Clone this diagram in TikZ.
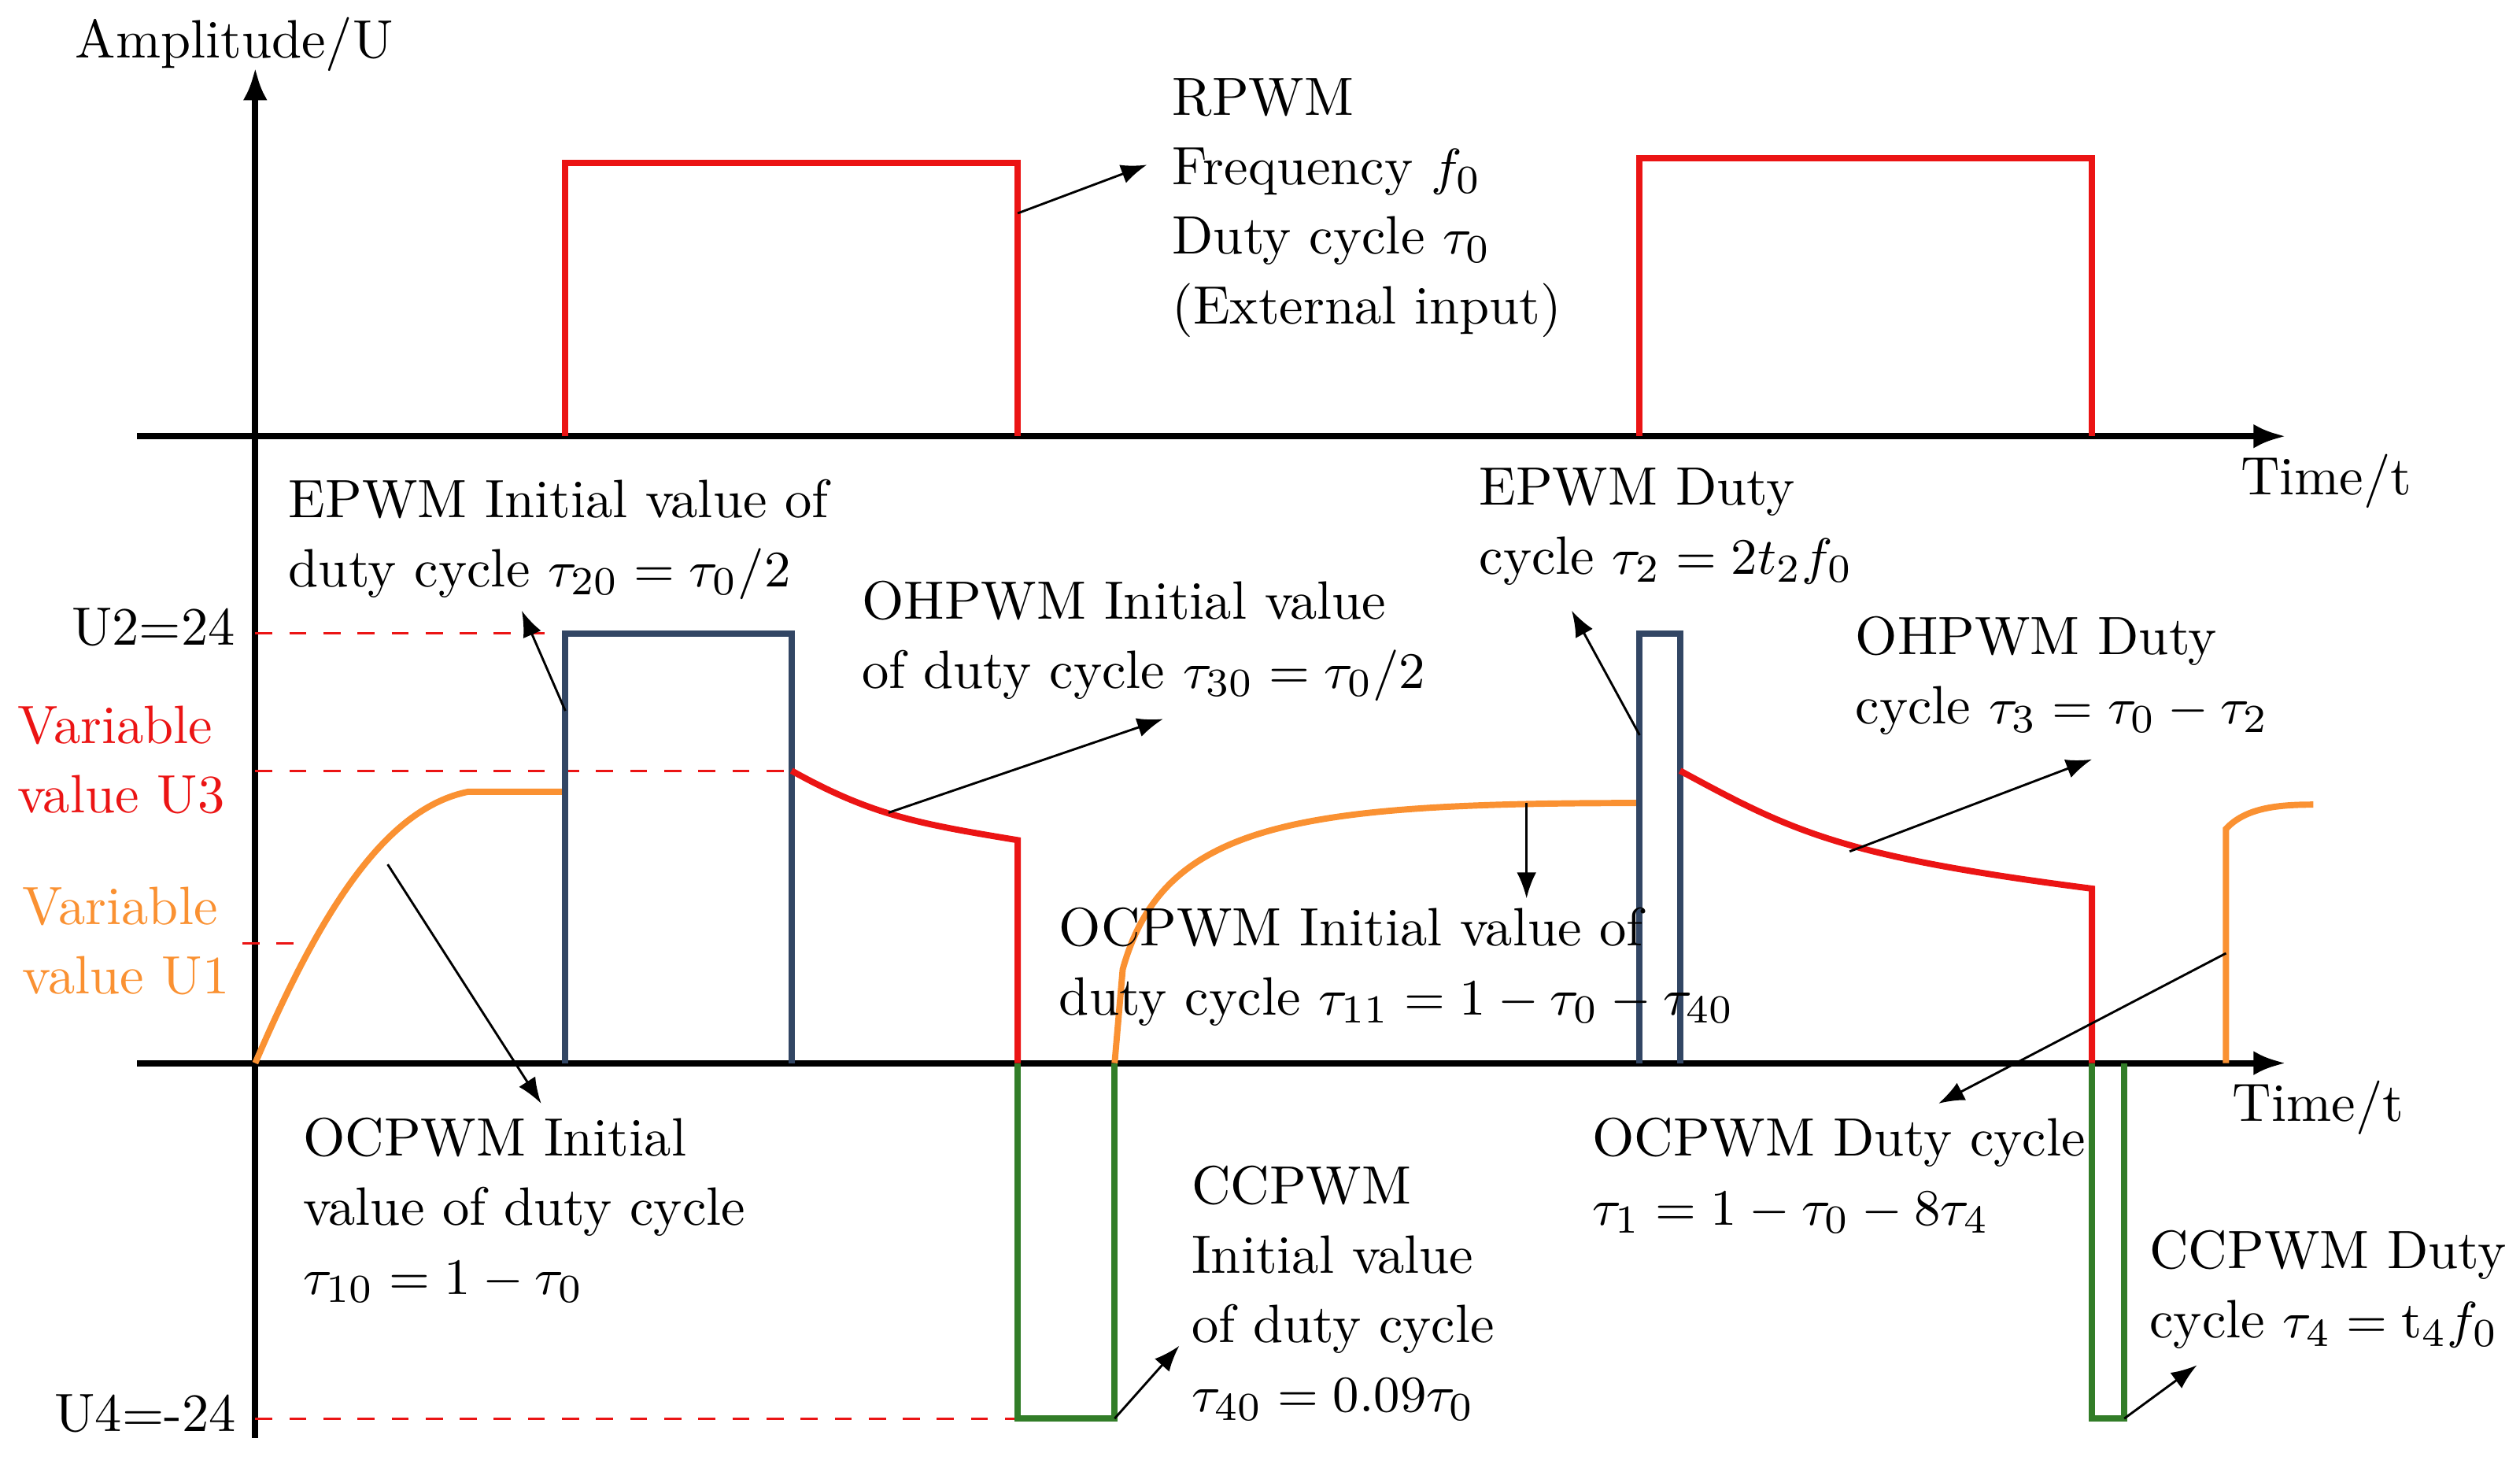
\documentclass[tikz,border=0pt]{standalone}
\usepackage{amsmath}
\usepackage{xcolor}
\usetikzlibrary{positioning,arrows.meta}
\definecolor{sigred}{RGB}{235,20,20}
\definecolor{sigorange}{RGB}{250,145,50}
\definecolor{sigblue}{RGB}{50,70,100}
\definecolor{siggreen}{RGB}{50,125,40}
\tikzset{
  lbl/.style={anchor=north west,align=left,inner sep=0pt,font=\fontsize{9.5}{12.2}\selectfont},
  ptr/.style={-{Latex[length=1.6mm]},thin},
  guide/.style={sigred,dashed,thin},
  axis/.style={-{Latex[length=2mm]},line width=1.1pt},
  sig/.style={line width=1.1pt}
}
\begin{document}
\begin{tikzpicture}[x=0.01cm,y=-0.01cm]
\useasboundingbox (0,0) rectangle (1560,908.6);
% axes
\coordinate (o1) at (85,270); \coordinate (e1) at (1415,270);
\coordinate (o2) at (85,658); \coordinate (e2) at (1415,658);
\coordinate (yb) at (158,890); \coordinate (yt) at (158,42);
\draw[axis] (o1) -- (e1);
\draw[axis] (o2) -- (e2);
\draw[axis] (yb) -- (yt);
\node[lbl,anchor=base] (ylab) at (145,36) {Amplitude/U};
\node[lbl,anchor=base] (t1) at (1440,306) {Time/t};
\node[lbl,anchor=base] (t2) at (1435,694) {Time/t};
% levels
\node[lbl,anchor=base] (u2) at (95,399) {U2=24};
\node[lbl,anchor=base,text=sigred] (u3) at (75,503) {Variable\\value U3};
\node[lbl,anchor=base,text=sigorange] (u1) at (78,615) {Variable\\value U1};
\node[lbl,anchor=base] (u4) at (90,886) {U4=-24};
\draw[guide] (158,392) -- (350,392);
\draw[guide] (158,477) -- (490,477);
\draw[guide] (150,584) -- (190,584);
\draw[guide] (158,878) -- (630,878);
% RPWM
\draw[sigred,sig] (350,270) -- (350,101) -- (630,101) -- (630,270);
\draw[sigred,sig] (1015,270) -- (1015,98) -- (1295,98) -- (1295,270);
% output signals
\draw[sigorange,sig] (158,658) .. controls (200,560) and (240,500) .. (290,490) -- (350,490);
\draw[sigblue,sig] (350,658) -- (350,392) -- (490,392) -- (490,658);
\draw[sigred,sig] (490,477) .. controls (540,505) and (570,510) .. (630,520) -- (630,658);
\draw[siggreen,sig] (630,658) -- (630,878) -- (690,878) -- (690,658);
\draw[sigorange,sig] (690,658) -- (695,600) .. controls (720,510) and (800,497) .. (1015,497);
\draw[sigblue,sig] (1015,658) -- (1015,392) -- (1040,392) -- (1040,658);
\draw[sigred,sig] (1040,477) .. controls (1110,515) and (1140,530) .. (1295,550) -- (1295,658);
\draw[siggreen,sig] (1295,658) -- (1295,878) -- (1315,878) -- (1315,658);
\draw[sigorange,sig] (1378,658) -- (1378,513) .. controls (1390,500) and (1410,498) .. (1432,498);
% labels
\node[lbl] (rp) at (725,48) {RPWM\\Frequency $f_0$\\Duty cycle $\tau_0$\\(External input)};
\node[lbl] (ep0) at (178,296) {EPWM Initial value of\\duty cycle $\tau_{20}=\tau_0/2$};
\node[lbl] (oh0) at (533,359) {OHPWM Initial value\\of duty cycle $\tau_{30}=\tau_0/2$};
\node[lbl] (ep) at (915,289) {EPWM Duty\\cycle $\tau_2=2t_2f_0$};
\node[lbl] (oh) at (1148,381) {OHPWM Duty\\cycle $\tau_3=\tau_0-\tau_2$};
\node[lbl] (oc11) at (655,561) {OCPWM Initial value of\\duty cycle $\tau_{11}=1-\tau_0-\tau_{40}$};
\node[lbl] (oc10) at (187,691) {OCPWM Initial\\value of duty cycle\\$\tau_{10}=1-\tau_0$};
\node[lbl] (cc40) at (737,721) {CCPWM\\Initial value\\of duty cycle\\$\tau_{40}=0.09\tau_0$};
\node[lbl] (oc1) at (985,691) {OCPWM Duty cycle\\$\tau_1=1-\tau_0-8\tau_4$};
\node[lbl] (cc4) at (1330,761) {CCPWM Duty\\cycle $\tau_4=\mathrm{t}_4f_0$};
% pointers
\coordinate (a1) at (630,132); \coordinate (b1) at (710,102);
\coordinate (a2) at (350,440); \coordinate (b2) at (323,378);
\coordinate (a3) at (550,503); \coordinate (b3) at (720,445);
\coordinate (a4) at (1015,455); \coordinate (b4) at (973,378);
\coordinate (a5) at (1145,527); \coordinate (b5) at (1295,470);
\coordinate (a6) at (945,497); \coordinate (b6) at (945,556);
\coordinate (a7) at (240,535); \coordinate (b7) at (335,683);
\coordinate (a8) at (690,878); \coordinate (b8) at (730,833);
\coordinate (a9) at (1378,590); \coordinate (b9) at (1200,683);
\coordinate (a10) at (1315,878); \coordinate (b10) at (1360,845);
\foreach \i in {1,...,10} {\draw[ptr] (a\i) -- (b\i);}
\end{tikzpicture}
\end{document}
